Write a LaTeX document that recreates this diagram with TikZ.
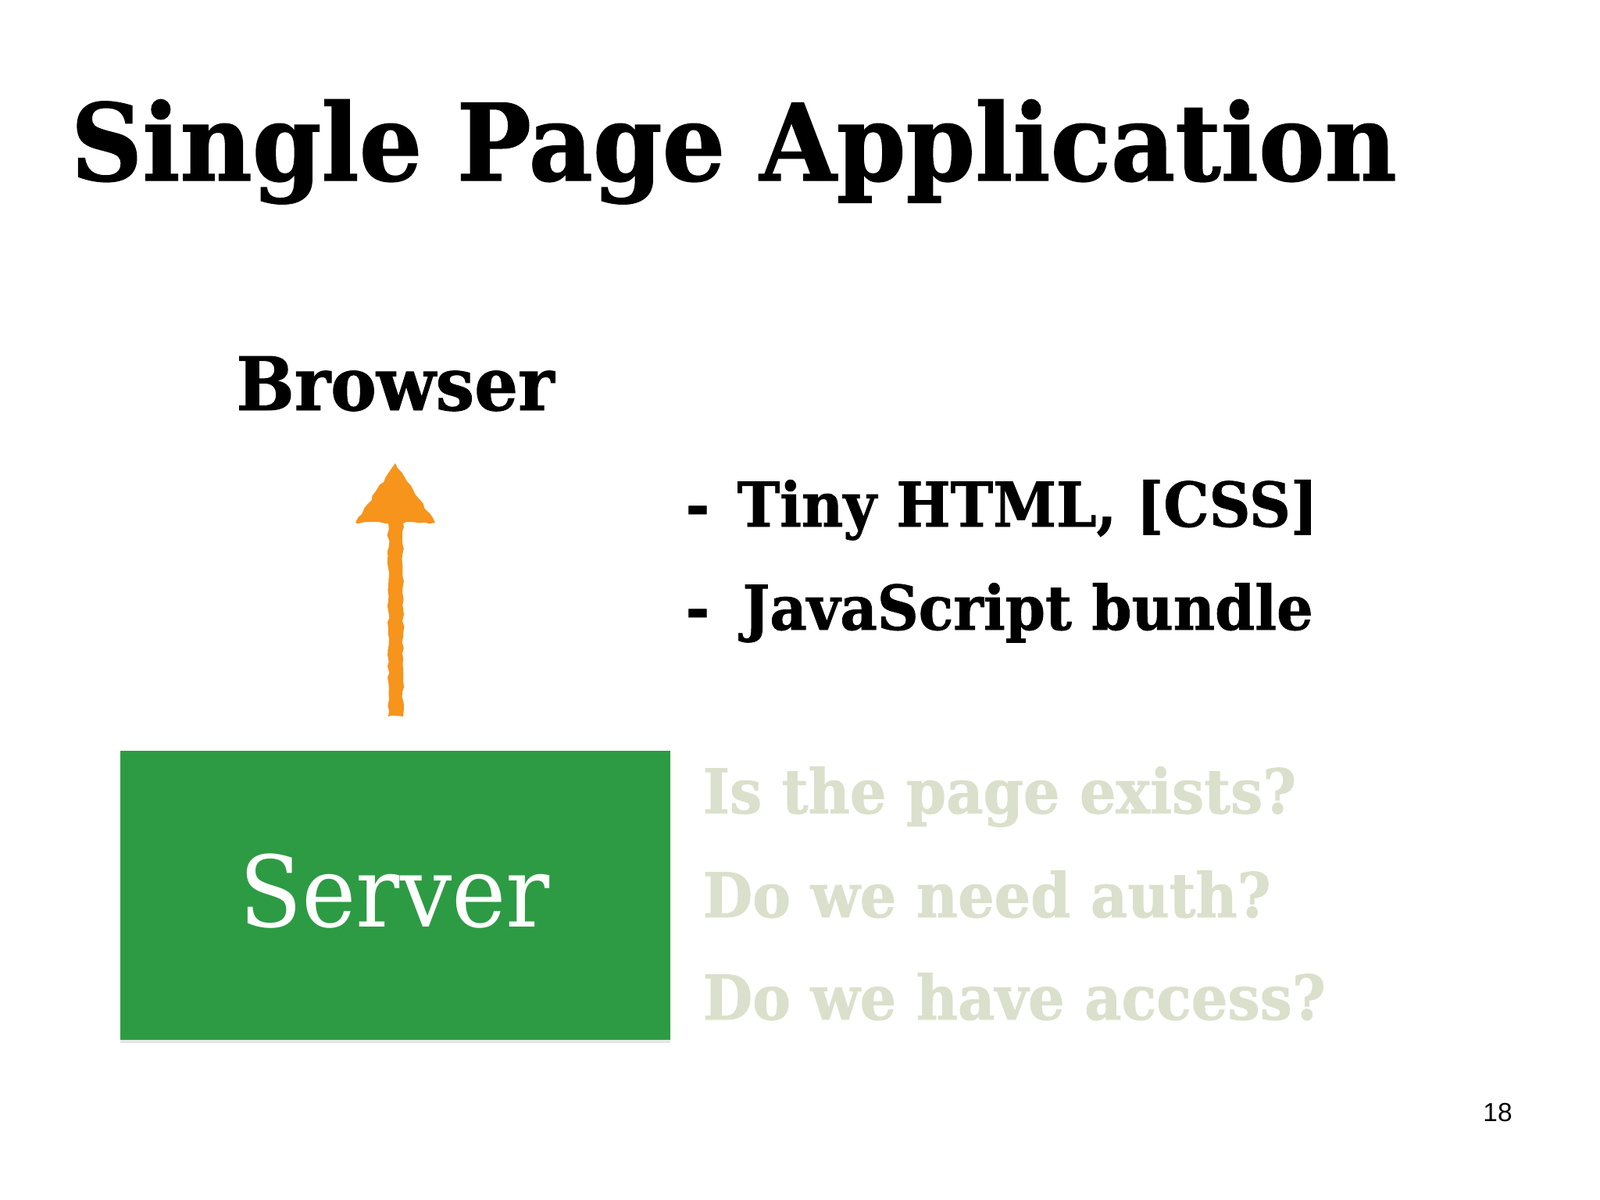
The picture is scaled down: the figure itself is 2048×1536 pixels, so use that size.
\documentclass[tikz,border=0pt]{standalone}
\usepackage{fontspec}
\usetikzlibrary{decorations.pathmorphing,shadows}
\setmainfont[FakeStretch=0.93, BoldFeatures={FakeBold=1}]{DejaVu Serif}
\newfontfamily\pagefont{Liberation Sans}
\definecolor{servergreen}{RGB}{45,155,67}
\definecolor{arroworange}{RGB}{246,148,28}
\definecolor{fadedtext}{RGB}{218,224,203}
\tikzset{
	headline/.style = {anchor=base west, inner sep=0, font=\fontsize{38.8}{38.8}\selectfont\bfseries},
	mainline/.style = {anchor=base west, inner sep=0, font=\fontsize{22.4}{22.4}\selectfont\bfseries},
	fadedline/.style = {anchor=base west, inner sep=0, text=fadedtext, font=\fontsize{22.4}{22.4}\selectfont\bfseries},
	chalk/.style = {arroworange, decorate, decoration={random steps, segment length=2pt, amplitude=0.4pt}},
}
\begin{document}
\begin{tikzpicture} [x=0.01cm, y=-0.01cm]
	\useasboundingbox (0, 0) rectangle (2048, 1536);
	\fill [white] (0, 0) rectangle (2048, 1536);
	\node [headline] (title) at (90, 231) {Single Page Application};
	\node [mainline, anchor=base, font=\fontsize{26.9}{26.9}\selectfont\bfseries] (browser) at (506, 525) {Browser};
	% arrow
	\coordinate (tail) at (506, 917);
	\coordinate (tip) at (506, 593);
	\fill [chalk] (497, 917) -- (497, 668) -- (516, 668) -- (516, 917) -- cycle;
	\fill [chalk] (tip) -- (557, 669) -- (455, 669) -- cycle;
	\node [fill=servergreen, text=white, minimum width=7.04cm, minimum height=3.7cm, inner sep=0, drop shadow={opacity=0.2, shadow xshift=0pt, shadow yshift=-1pt}] (server) at (506, 1146) {};
	\node [anchor=base, inner sep=0, text=white, font=\fontsize{35.9}{35.9}\selectfont] (label) at (505, 1186) {Server};
	\node [mainline] (htmldash) at (877, 674) {-};
	\node [mainline] (html) at (943, 674) {Tiny HTML, [CSS]};
	\node [mainline] (bundledash) at (877, 806) {-};
	\node [mainline] (bundle) at (950, 806) {JavaScript bundle};
	\node [fadedline] (exists) at (899, 1041) {Is the page exists?};
	\node [fadedline] (auth) at (899, 1174) {Do we need auth?};
	\node [fadedline] (access) at (899, 1305) {Do we have access?};
	\node [anchor=base, font=\fontsize{9.5}{9.5}\selectfont\pagefont, inner sep=0] (page) at (1917, 1435) {18};
\end{tikzpicture}
\end{document}
